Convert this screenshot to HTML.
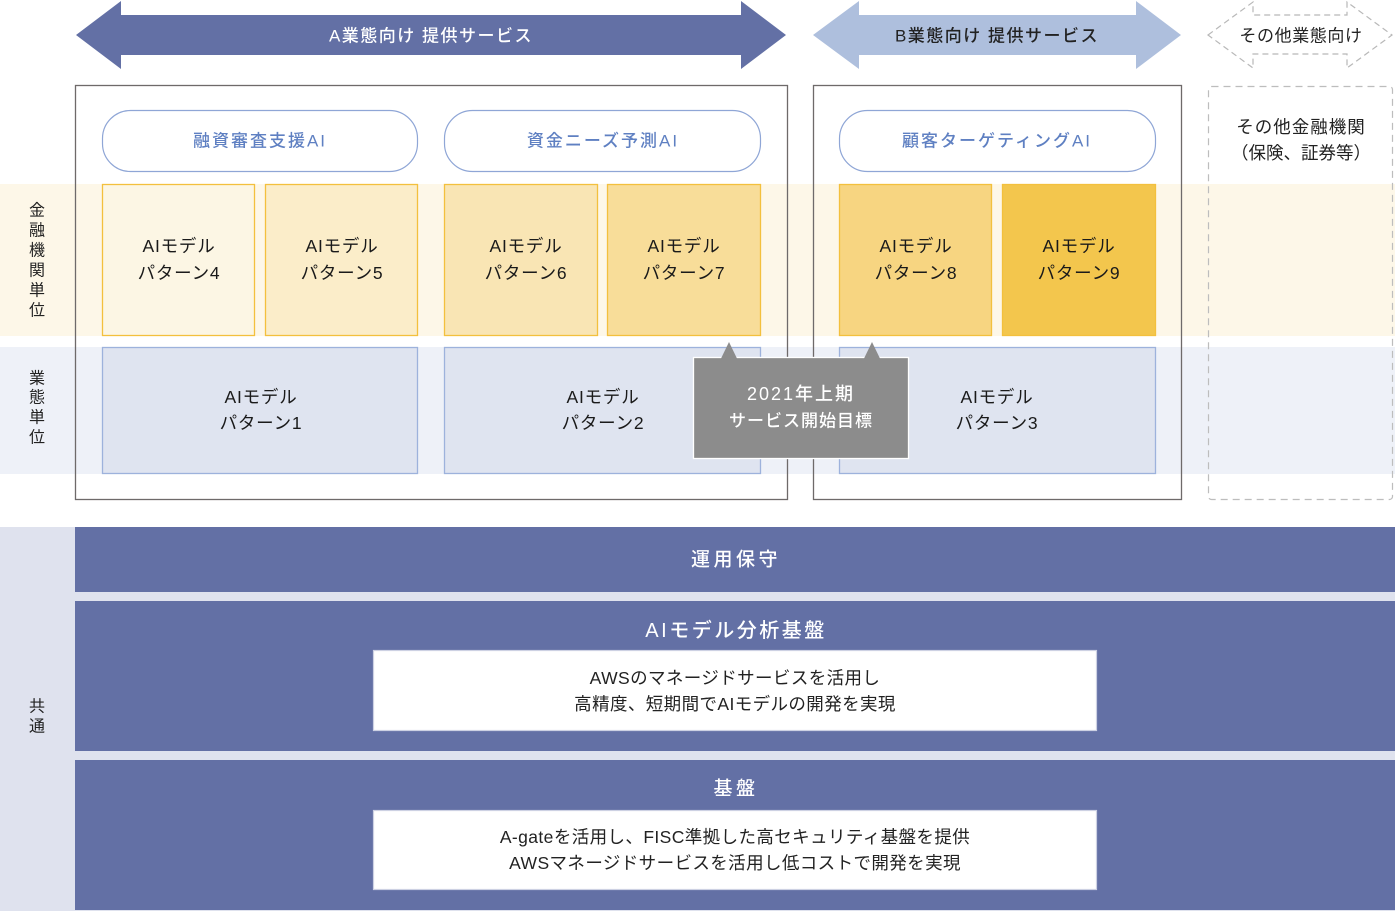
<!DOCTYPE html>
<html><head><meta charset="utf-8">
<style>
html,body{margin:0;padding:0;background:#fff;}
svg{display:block;}
text{font-family:"Liberation Sans","Noto Sans CJK JP",sans-serif;}
</style></head>
<body>
<svg width="1395" height="911" viewBox="0 0 1395 911" xmlns="http://www.w3.org/2000/svg">
<!-- bands -->
<rect x="0" y="184" width="1395" height="152" fill="#fdf7e8"/>
<rect x="0" y="347" width="1395" height="127" fill="#eef1f8"/>

<!-- top arrows -->
<polygon points="76,35 121,1 121,15 741,15 741,1 786,35 741,69 741,55 121,55 121,69" fill="#6370a5"/>
<text x="431" y="36" text-anchor="middle" dominant-baseline="central" font-size="17" fill="#fff" letter-spacing="1.5" font-weight="500">A業態向け 提供サービス</text>
<polygon points="813,35 859,1 859,15 1136,15 1136,1 1181,35 1136,69 1136,55 859,55 859,69" fill="#aebfdd"/>
<text x="997" y="36" text-anchor="middle" dominant-baseline="central" font-size="17" fill="#222" letter-spacing="1.5" font-weight="500">B業態向け 提供サービス</text>
<polygon points="1208,35 1253,2 1253,15 1347,15 1347,2 1392,35 1347,68 1347,54 1253,54 1253,68" fill="none" stroke="#b8b8b8" stroke-width="1.2" stroke-dasharray="6,4"/>
<text x="1301" y="36" text-anchor="middle" dominant-baseline="central" font-size="17" fill="#222" letter-spacing="0.6">その他業態向け</text>

<!-- outer boxes -->
<rect x="75.5" y="85.5" width="712" height="414" fill="none" stroke="#6e6a6a" stroke-width="1.3"/>
<rect x="813.5" y="85.5" width="368" height="414" fill="none" stroke="#6e6a6a" stroke-width="1.3"/>
<rect x="1208.5" y="86.5" width="184" height="413" rx="3" fill="none" stroke="#bdbdbd" stroke-width="1.2" stroke-dasharray="7,5"/>
<text x="1301" y="127" text-anchor="middle" dominant-baseline="central" font-size="17.5" fill="#222" letter-spacing="1">その他金融機関</text>
<text x="1301" y="153" text-anchor="middle" dominant-baseline="central" font-size="17.5" fill="#222" letter-spacing="0">（保険、証券等）</text>

<!-- pills -->
<rect x="102.5" y="110.5" width="315" height="61" rx="28" fill="#fff" stroke="#8fa6d6" stroke-width="1.2"/>
<text x="260" y="141" text-anchor="middle" dominant-baseline="central" font-size="17" fill="#5f80c2" letter-spacing="2" font-weight="500">融資審査支援AI</text>
<rect x="444.5" y="110.5" width="316" height="61" rx="28" fill="#fff" stroke="#8fa6d6" stroke-width="1.2"/>
<text x="603" y="141" text-anchor="middle" dominant-baseline="central" font-size="17" fill="#5f80c2" letter-spacing="2" font-weight="500">資金ニーズ予測AI</text>
<rect x="839.5" y="110.5" width="316" height="61" rx="28" fill="#fff" stroke="#8fa6d6" stroke-width="1.2"/>
<text x="997" y="141" text-anchor="middle" dominant-baseline="central" font-size="17" fill="#5f80c2" letter-spacing="2" font-weight="500">顧客ターゲティングAI</text>

<!-- pattern boxes (institution) -->
<g stroke="#f3c03d" stroke-width="1.3">
<rect x="102.5" y="184.5" width="152" height="151" fill="#fcf6e4"/>
<rect x="265.5" y="184.5" width="152" height="151" fill="#fbedc9"/>
<rect x="444.5" y="184.5" width="153" height="151" fill="#f9e5b4"/>
<rect x="607.5" y="184.5" width="153" height="151" fill="#f8dd99"/>
<rect x="839.5" y="184.5" width="152" height="151" fill="#f7d581"/>
<rect x="1002.5" y="184.5" width="153" height="151" fill="#f3c64d"/>
</g>
<g font-size="17.5" fill="#1a1a1a" text-anchor="middle" dominant-baseline="central" letter-spacing="0.8">
<text x="179" y="246">AIモデル</text><text x="179" y="273">パターン4</text>
<text x="342" y="246">AIモデル</text><text x="342" y="273">パターン5</text>
<text x="526" y="246">AIモデル</text><text x="526" y="273">パターン6</text>
<text x="684" y="246">AIモデル</text><text x="684" y="273">パターン7</text>
<text x="916" y="246">AIモデル</text><text x="916" y="273">パターン8</text>
<text x="1079" y="246">AIモデル</text><text x="1079" y="273">パターン9</text>
</g>

<!-- pattern boxes (business) -->
<g stroke="#9db2dc" stroke-width="1.3" fill="#dfe4f0">
<rect x="102.5" y="347.5" width="315" height="126"/>
<rect x="444.5" y="347.5" width="316" height="126"/>
<rect x="839.5" y="347.5" width="316" height="126"/>
</g>
<g font-size="17.5" fill="#1a1a1a" text-anchor="middle" dominant-baseline="central" letter-spacing="0.8">
<text x="261" y="397">AIモデル</text><text x="261" y="423">パターン1</text>
<text x="603" y="397">AIモデル</text><text x="603" y="423">パターン2</text>
<text x="997" y="397">AIモデル</text><text x="997" y="423">パターン3</text>
</g>

<!-- callout -->
<rect x="693.5" y="357.5" width="215" height="101" fill="#8c8c8c" stroke="#fff" stroke-width="1.3"/>
<polygon points="721,358.5 729,342 737,358.5" fill="#8c8c8c"/>
<polygon points="864,358.5 872,342 880,358.5" fill="#8c8c8c"/>
<text x="801" y="394" text-anchor="middle" dominant-baseline="central" font-size="18" fill="#fff" letter-spacing="2" font-weight="500">2021年上期</text>
<text x="801" y="421" text-anchor="middle" dominant-baseline="central" font-size="17" fill="#fff" letter-spacing="1" font-weight="500">サービス開始目標</text>

<!-- left labels -->
<g font-size="16" fill="#222" text-anchor="middle" dominant-baseline="central">
<text x="37" y="211">金</text><text x="37" y="231">融</text><text x="37" y="251">機</text><text x="37" y="271">関</text><text x="37" y="291">単</text><text x="37" y="311">位</text>
<text x="37" y="379">業</text><text x="37" y="398">態</text><text x="37" y="418">単</text><text x="37" y="438">位</text>
</g>

<!-- bottom common -->
<rect x="0" y="527" width="1395" height="384" fill="#dfe2ee"/>
<rect x="75" y="527" width="1320" height="65" fill="#6370a5"/>
<rect x="75" y="601" width="1320" height="150" fill="#6370a5"/>
<rect x="75" y="760" width="1320" height="150" fill="#6370a5"/>
<text x="736" y="560" text-anchor="middle" dominant-baseline="central" font-size="19" fill="#fff" letter-spacing="3.5" font-weight="500">運用保守</text>
<text x="736" y="631" text-anchor="middle" dominant-baseline="central" font-size="20" fill="#fff" letter-spacing="2.5" font-weight="500">AIモデル分析基盤</text>
<text x="736" y="789" text-anchor="middle" dominant-baseline="central" font-size="19" fill="#fff" letter-spacing="3.5" font-weight="500">基盤</text>
<rect x="373.5" y="650.5" width="723" height="80" fill="#fff" stroke="#cdd1e3" stroke-width="1.2"/>
<rect x="373.5" y="810.5" width="723" height="79" fill="#fff" stroke="#cdd1e3" stroke-width="1.2"/>
<g font-size="17.5" fill="#222" text-anchor="middle" dominant-baseline="central" letter-spacing="0.4">
<text x="735" y="678">AWSのマネージドサービスを活用し</text>
<text x="735" y="704">高精度、短期間でAIモデルの開発を実現</text>
<text x="735" y="837">A-gateを活用し、FISC準拠した高セキュリティ基盤を提供</text>
<text x="735" y="863">AWSマネージドサービスを活用し低コストで開発を実現</text>
</g>
<g font-size="16" fill="#222" text-anchor="middle" dominant-baseline="central">
<text x="37" y="707">共</text><text x="37" y="727">通</text>
</g>
</svg>
</body></html>
